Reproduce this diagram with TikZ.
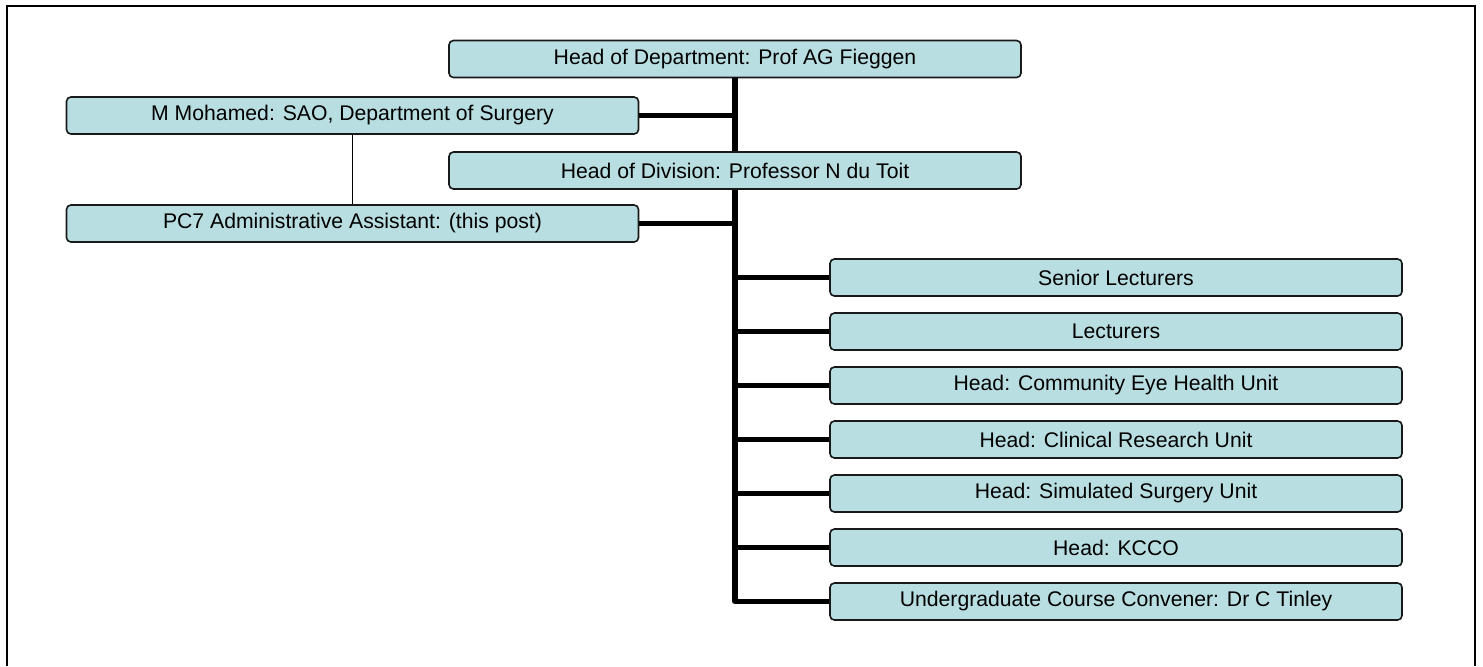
\documentclass[tikz,border=0pt]{standalone}
\usepackage{fontspec}
\setmainfont{Liberation Sans}
\usepackage{xcolor}
\usepackage{tikz}
\definecolor{postfill}{RGB}{184,222,225}

\begin{document}
\begin{tikzpicture}[x=0.5pt, y=-0.5pt,
			post/.style={draw=black!90, fill=postfill, rounded corners=2.2pt,
				line width=0.8pt, minimum width=286pt, minimum height=18.5pt,
				inner sep=0pt, font=\fontsize{10.6}{12.7}\selectfont},
			trunk/.style={line width=2.7pt, black},
			thin/.style={line width=0.8pt, black}]
			
			\useasboundingbox (0,0) rectangle (1483,666);
			\draw[line width=1pt] (7,666) -- (7,6) -- (1475,6) -- (1475,666);
			
			\node[post] (dept) at (735,59) {Head of Department: Prof AG Fieggen};
			\node[post] (sao) at (352.5,115.5) {M Mohamed: SAO, Department of Surgery};
			\node[post] (div) at (735,170.5) {Head of Division: Professor N du Toit};
			\node[post] (pca) at (352.5,223.5) {PC7 Administrative Assistant: (this post)};
			
			\node[post] (senior) at (1116,277.5) {Senior Lecturers};
			\node[post] (lect) at (1116,331.5) {Lecturers};
			\node[post] (ceh) at (1116,385.5) {Head: Community Eye Health Unit};
			\node[post] (cru) at (1116,439.5) {Head: Clinical Research Unit};
			\node[post] (ssu) at (1116,493.5) {Head: Simulated Surgery Unit};
			\node[post] (kcco) at (1116,547.5) {Head: KCCO};
			\node[post] (ucc) at (1116,601.5) {Undergraduate Course Convener: Dr C Tinley};
			
			\draw[trunk] (dept.south) -- (div.north);
			\draw[trunk] (sao.east) -- (sao.east -| dept.south);
			\draw[thin] (sao.south) -- (pca.north);
			\draw[trunk, line join=round] (div.south) |- (ucc.west);
			\draw[trunk] (pca.east) -- (pca.east -| div.south);
			\draw[trunk] (senior.west) -- (senior.west -| div.south);
			\draw[trunk] (lect.west) -- (lect.west -| div.south);
			\draw[trunk] (ceh.west) -- (ceh.west -| div.south);
			\draw[trunk] (cru.west) -- (cru.west -| div.south);
			\draw[trunk] (ssu.west) -- (ssu.west -| div.south);
			\draw[trunk] (kcco.west) -- (kcco.west -| div.south);
		\end{tikzpicture}
\end{document}
